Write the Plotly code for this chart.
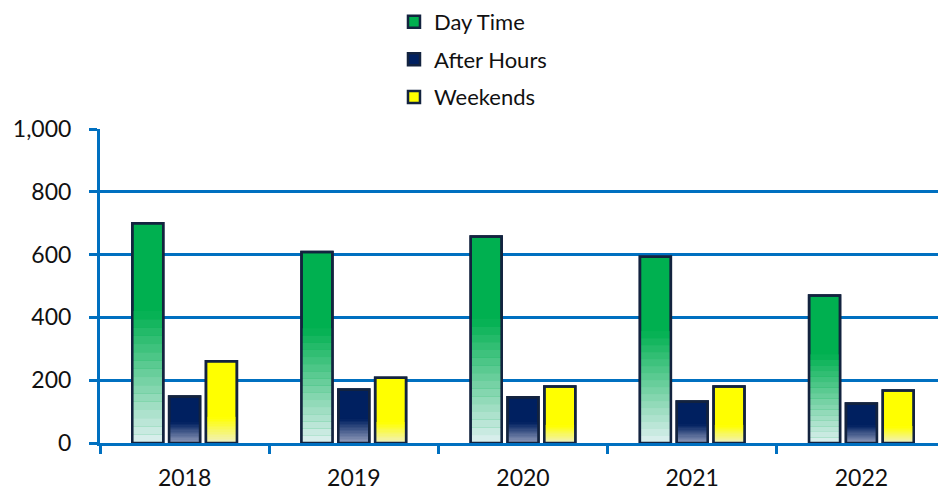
import plotly.graph_objects as go

years = ["2018", "2019", "2020", "2021", "2022"]
day_time = [700, 608, 658, 593, 470]
after_hours = [148, 170, 146, 132, 126]
weekends = [260, 208, 180, 180, 167]

series_names = ["Day Time", "After Hours", "Weekends"]
series_values = [day_time, after_hours, weekends]

# style: (solid colour, bottom colour, fraction of height that fades)
styles = {
    "Day Time": ((0, 176, 80), (222, 240, 240), 0.6),
    "After Hours": ((0, 32, 96), (150, 160, 190), 0.45),
    "Weekends": ((255, 255, 0), (240, 240, 200), 0.32),
}
BORDER = "#13233f"
BLUE = "#0070C0"
N_SEG = 16


def rgb(c):
    return "rgb(%d,%d,%d)" % tuple(int(round(v)) for v in c)


def mix(a, b, t):
    return tuple(a[i] * (1 - t) + b[i] * t for i in range(3))


fig = go.Figure()
for name, vals in zip(series_names, series_values):
    solid, bottom, fade = styles[name]
    fig.add_trace(go.Bar(
        x=years, y=vals, name=name, offsetgroup=name, legendgroup=name,
        marker=dict(color=rgb(solid), line=dict(color=BORDER, width=2.5)),
        hoverinfo="skip",
    ))
    for k in range(N_SEG):
        lo = k / N_SEG * fade
        hi = (k + 1) / N_SEG * fade
        mid = (lo + hi) / 2
        col = mix(bottom, solid, mid / fade)
        fig.add_trace(go.Bar(
            x=years, y=[v * (hi - lo) * 1.03 for v in vals],
            base=[v * lo for v in vals],
            offsetgroup=name, legendgroup=name, showlegend=False,
            marker=dict(color=rgb(col), line=dict(width=0)),
            hoverinfo="skip",
        ))
    fig.add_trace(go.Bar(
        x=years, y=vals, offsetgroup=name, legendgroup=name, showlegend=False,
        marker=dict(color="rgba(0,0,0,0)", line=dict(color=BORDER, width=2.5)),
        hoverinfo="skip",
    ))

fig.update_layout(
    width=938, height=482,
    margin=dict(l=92, r=0, t=121, b=47, autoexpand=False),
    paper_bgcolor="white", plot_bgcolor="white",
    barmode="group", bargap=0.347, bargroupgap=0.16,
    font=dict(family="Lato", size=22, color="#111111"),
    legend=dict(
        orientation="v", x=0.3475, xanchor="left", y=1.408, yanchor="top",
        yref="paper", font=dict(size=22), tracegroupgap=6,
        bgcolor="rgba(0,0,0,0)", itemwidth=30,
    ),
    showlegend=True,
)
fig.update_xaxes(
    type="category", showline=True, linecolor=BLUE, linewidth=3,
    ticks="outside", tickson="boundaries", ticklen=8, tickwidth=2.5, tickcolor=BLUE,
    showgrid=False, tickfont=dict(size=23), ticklabelstandoff=12,
)
fig.update_yaxes(
    range=[0, 1000], dtick=200, tickformat=",", showline=True, linecolor=BLUE,
    linewidth=3, ticks="outside", ticklen=8, tickwidth=2.5, tickcolor=BLUE,
    showgrid=True, gridcolor=BLUE, gridwidth=2.5, zeroline=False,
    tickfont=dict(size=23), ticklabelstandoff=13,
)

fig.write_html("out.html")
